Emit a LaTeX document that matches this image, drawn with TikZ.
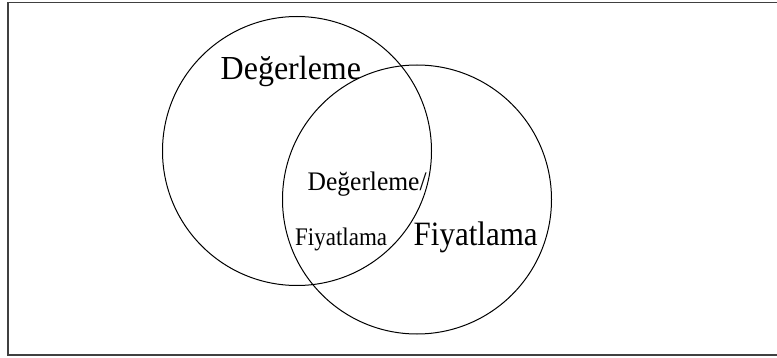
\documentclass[tikz,border=0pt]{standalone}
\usepackage{fontspec}
\setmainfont{Liberation Serif}
\definecolor{frame}{HTML}{404040}
\tikzset{
  vcircle/.style={draw=black, line width=1pt},
  lbl/.style={inner sep=0pt, anchor=base west, text=black},
}
\begin{document}
\begin{tikzpicture}[x=1pt,y=-1pt]
\useasboundingbox (0,0) rectangle (777,358);
\clip (0,0) rectangle (777,358);
\draw[draw=frame, line width=1.6pt] (8,2.5) rectangle (800,355);
\node[vcircle, circle, minimum size=269pt, inner sep=0pt] (left) at (297,151) {};
\node[vcircle, circle, minimum size=269pt, inner sep=0pt] (right) at (417,199.5) {};
\node[lbl, font=\fontsize{32}{36}\selectfont] (tA) at (220.5,80) {\scalebox{1}[1.05]{Değerleme}};
\node[lbl, font=\fontsize{25.5}{28}\selectfont] (tB) at (307.5,191) {\scalebox{1}[1.05]{Değerleme/}};
\node[lbl, font=\fontsize{23}{26}\selectfont] (tC) at (295,246) {\scalebox{1}[1.1]{Fiyatlama}};
\node[lbl, font=\fontsize{31}{34}\selectfont] (tD) at (413.5,246) {\scalebox{1}[1.1]{Fiyatlama}};
\end{tikzpicture}
\end{document}
